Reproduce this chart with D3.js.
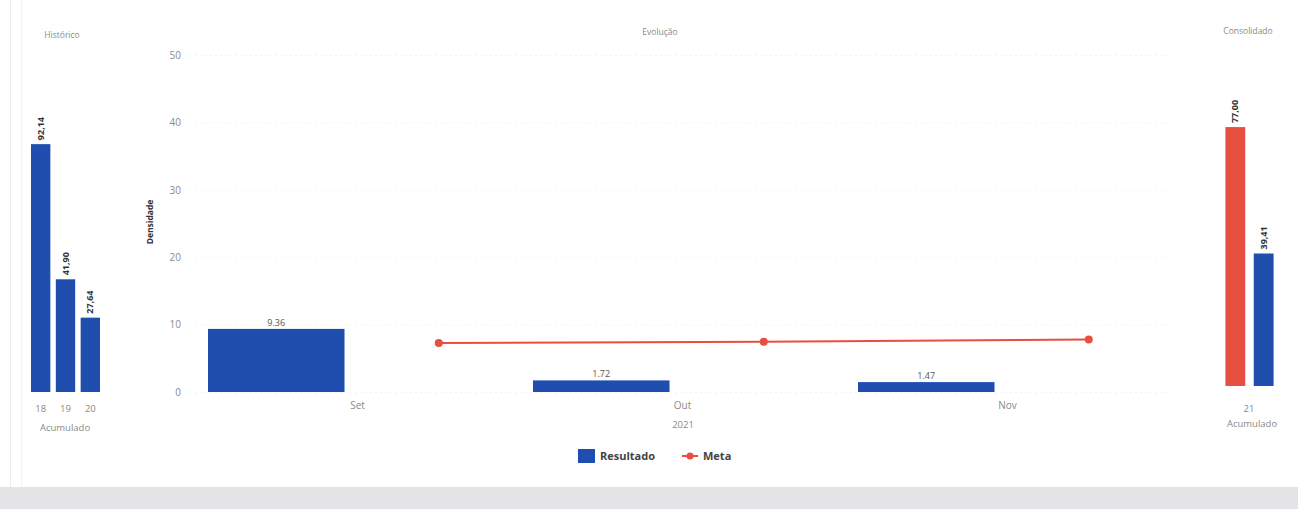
<!DOCTYPE html>
<html><head><meta charset="utf-8">
<script src="https://cdn.jsdelivr.net/npm/d3@7"></script>
<style>
html,body{margin:0;padding:0;background:#fff;}
svg{display:block;font-family:"Open Sans","Liberation Sans",sans-serif;}
</style></head>
<body><svg id="c" width="1298" height="509"></svg>
<script>
// ---- data ----
const histYears = ["18","19","20"];
const histValues = [92.14, 41.90, 27.64];
const months = ["Set","Out","Nov"];
const resultado = [9.36, 1.72, 1.47];
const meta = [7.27, 7.45, 7.8];
const yTicks = [0,10,20,30,40,50];
const consCats = ["Meta","Resultado"];
const consValues = [77.00, 39.41];

const BLUE = "#1f4eaf", RED = "#e84f40", GREY = "#8a8a8a";
const fmtC = v => d3.format(".2f")(v).replace(".", ",");
const svg = d3.select("#c");

// background pieces
svg.append("rect").attr("x",0).attr("y",487).attr("width",1298).attr("height",22).attr("fill","#e4e4e6");
svg.append("line").attr("x1",10.5).attr("x2",10.5).attr("y1",0).attr("y2",487).attr("stroke","#ececec");
svg.append("line").attr("x1",21.5).attr("x2",21.5).attr("y1",0).attr("y2",487).attr("stroke","#f3f3f3");

// ---------- left panel: Histórico ----------
const xH = d3.scaleBand().domain(histYears).range([30,101]).paddingInner(0.22).paddingOuter(0.04);
const yH = d3.scaleLinear().domain([0,100]).range([392,123]);
svg.append("text").attr("x",62).attr("y",38).attr("text-anchor","middle").attr("font-size",8.5).attr("fill",GREY).text("Histórico");
svg.append("g").selectAll("rect").data(histValues).join("rect")
  .attr("x",(d,i)=>xH(histYears[i])).attr("width",xH.bandwidth())
  .attr("y",d=>yH(d)).attr("height",d=>yH(0)-yH(d)).attr("fill",BLUE);
svg.append("g").selectAll("text").data(histValues).join("text")
  .attr("transform",(d,i)=>`translate(${xH(histYears[i])+xH.bandwidth()/2+3},${yH(d)-4}) rotate(-90)`)
  .attr("font-size",9).attr("font-weight","bold").attr("fill","#333").text(d=>fmtC(d));
const axH = svg.append("g").attr("transform","translate(0,392)").call(d3.axisBottom(xH).tickSize(0).tickPadding(13));
axH.select(".domain").remove();
axH.selectAll("text").attr("font-size",9.5).attr("fill",GREY).attr("font-family","Open Sans, sans-serif");
svg.append("text").attr("x",65).attr("y",431).attr("text-anchor","middle").attr("font-size",9.5).attr("fill",GREY).text("Acumulado");

// ---------- middle panel: Evolução ----------
const x = d3.scaleBand().domain(months).range([195,1170]);
const xi = d3.scaleBand().domain(["Resultado","Meta"]).range([0,x.bandwidth()]).paddingInner(0.16).paddingOuter(0.08);
const y = d3.scaleLinear().domain([0,50]).range([392,55]);

svg.append("text").attr("x",660).attr("y",35).attr("text-anchor","middle").attr("font-size",8.5).attr("fill",GREY).text("Evolução");

const gy = svg.append("g").attr("transform","translate(195,0)")
  .call(d3.axisLeft(y).tickValues(yTicks).tickSize(-975).tickPadding(14).tickFormat(d3.format("d")));
gy.select(".domain").remove();
gy.selectAll(".tick line").attr("stroke","#f3f3f3").attr("stroke-dasharray","2,3");
gy.selectAll("text").attr("font-size",10).attr("fill",GREY).attr("font-family","Open Sans, sans-serif");

svg.append("text").attr("transform","translate(153,222) rotate(-90)").attr("text-anchor","middle")
  .attr("font-size",8.5).attr("font-weight","bold").attr("fill","#333").text("Densidade");

svg.append("g").selectAll("rect").data(resultado).join("rect")
  .attr("x",(d,i)=>x(months[i])+xi("Resultado")).attr("width",xi.bandwidth())
  .attr("y",d=>y(d)).attr("height",d=>y(0)-y(d)).attr("fill",BLUE);
svg.append("g").selectAll("text").data(resultado).join("text")
  .attr("x",(d,i)=>x(months[i])+xi("Resultado")+xi.bandwidth()/2).attr("y",d=>y(d)-3)
  .attr("text-anchor","middle").attr("font-size",9).attr("fill","#555").text(d=>d3.format(".2f")(d));

const mx = (d,i)=>x(months[i])+xi("Meta")+xi.bandwidth()/2;
svg.append("path").datum(meta).attr("fill","none").attr("stroke",RED).attr("stroke-width",2)
  .attr("d",d3.line().x(mx).y(d=>y(d)));
svg.append("g").selectAll("circle").data(meta).join("circle")
  .attr("cx",mx).attr("cy",d=>y(d)).attr("r",4).attr("fill",RED);

const gx = svg.append("g").attr("transform","translate(0,392)").call(d3.axisBottom(x).tickSize(0).tickPadding(10));
gx.select(".domain").remove();
gx.selectAll("text").attr("font-size",10).attr("fill",GREY).attr("font-family","Open Sans, sans-serif");
svg.append("text").attr("x",683).attr("y",428).attr("text-anchor","middle").attr("font-size",9.5).attr("fill",GREY).text("2021");

// legend
const lg = svg.append("g").attr("transform","translate(578,456)");
lg.append("rect").attr("x",0).attr("y",-7).attr("width",17).attr("height",14).attr("fill",BLUE);
lg.append("text").attr("x",22).attr("y",4).attr("font-size",11).attr("font-weight","bold").attr("fill","#444").text("Resultado");
lg.append("line").attr("x1",104).attr("x2",120).attr("y1",0).attr("y2",0).attr("stroke",RED).attr("stroke-width",2);
lg.append("circle").attr("cx",112).attr("cy",0).attr("r",3.5).attr("fill",RED);
lg.append("text").attr("x",125).attr("y",4).attr("font-size",11).attr("font-weight","bold").attr("fill","#444").text("Meta");

// ---------- right panel: Consolidado ----------
const xC = d3.scaleBand().domain(consCats).range([1224,1275]).paddingInner(0.3).paddingOuter(0.05);
const yC = d3.scaleLinear().domain([0,80]).range([386,117]);
svg.append("text").attr("x",1248).attr("y",34).attr("text-anchor","middle").attr("font-size",8.5).attr("fill",GREY).text("Consolidado");
svg.append("g").selectAll("rect").data(consValues).join("rect")
  .attr("x",(d,i)=>xC(consCats[i])).attr("width",xC.bandwidth())
  .attr("y",d=>yC(d)).attr("height",d=>yC(0)-yC(d)).attr("fill",(d,i)=>i===0?RED:BLUE);
svg.append("g").selectAll("text").data(consValues).join("text")
  .attr("transform",(d,i)=>`translate(${xC(consCats[i])+xC.bandwidth()/2+3},${yC(d)-4}) rotate(-90)`)
  .attr("font-size",9).attr("font-weight","bold").attr("fill","#333").text(d=>fmtC(d));
svg.append("text").attr("x",1249).attr("y",412).attr("text-anchor","middle").attr("font-size",9.5).attr("fill",GREY).text("21");
svg.append("text").attr("x",1252).attr("y",427).attr("text-anchor","middle").attr("font-size",9.5).attr("fill",GREY).text("Acumulado");
</script></body></html>
